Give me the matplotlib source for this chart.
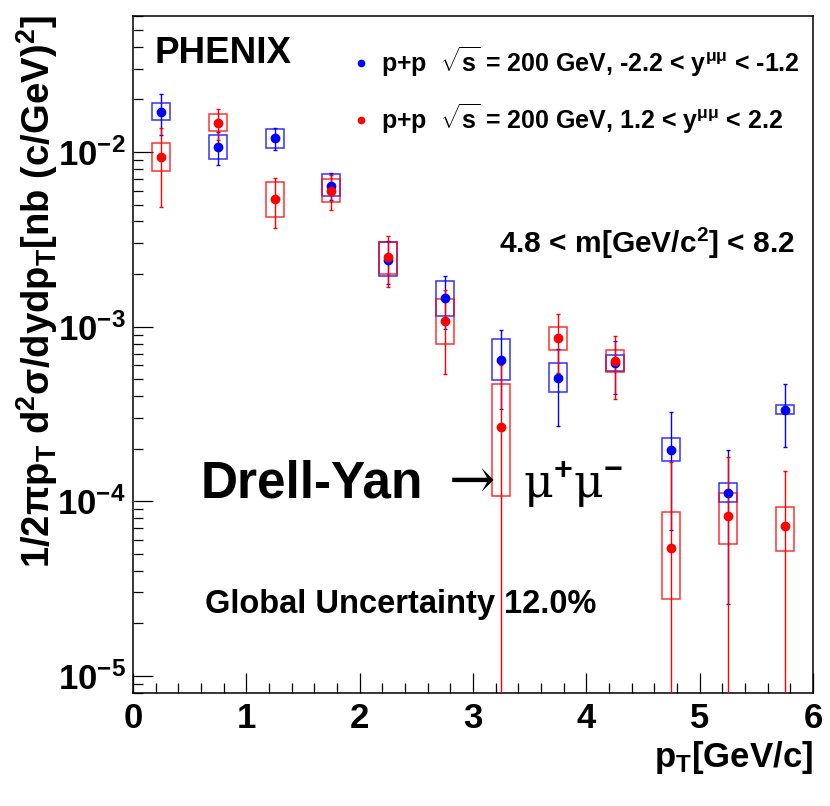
import matplotlib
matplotlib.use("Agg")
import matplotlib.pyplot as plt
import numpy as np

plt.rcParams["font.family"] = ["Liberation Sans", "DejaVu Sans"]
plt.rcParams["font.weight"] = "bold"
plt.rcParams["axes.labelweight"] = "bold"
plt.rcParams["mathtext.fontset"] = "custom"
plt.rcParams["mathtext.rm"] = "Liberation Sans:bold"
plt.rcParams["mathtext.it"] = "Liberation Sans:bold"
plt.rcParams["mathtext.bf"] = "Liberation Sans:bold"
plt.rcParams["mathtext.default"] = "rm"

# pT bin centres [GeV/c]
pt = np.array([0.25, 0.75, 1.25, 1.75, 2.25, 2.75, 3.25, 3.75, 4.25, 4.75, 5.25, 5.75])

# -2.2 < y < -1.2 (blue)
south_val = np.array([0.0170, 0.01074, 0.01198, 0.00642, 0.00242, 0.00145,
                      0.000646, 0.000507, 0.000615, 0.000196, 0.000111, 0.000334])
south_stat_hi = np.array([0.0215, 0.0130, 0.01367, 0.00755, 0.00310, 0.00194,
                          0.000955, 0.000743, 0.000822, 0.000323, 0.000196, 0.000467])
south_stat_lo = np.array([0.0125, 0.00847, 0.01022, 0.00534, 0.00176, 0.000964,
                          0.000337, 0.000271, 0.000409, 6.87e-5, 2.58e-5, 0.000203])
south_sys_hi = np.array([0.0190, 0.01258, 0.01349, 0.00748, 0.00307, 0.00183,
                         0.000845, 0.000616, 0.000687, 0.000229, 0.000127, 0.000354])
south_sys_lo = np.array([0.0152, 0.00917, 0.01059, 0.00563, 0.00196, 0.00115,
                         0.000492, 0.000421, 0.000556, 0.000169, 9.87e-5, 0.000315])

# 1.2 < y < 2.2 (red); stat_lo = 0 where the bar reaches zero
north_val = np.array([0.00933, 0.01472, 0.00536, 0.00601, 0.00249, 0.00107,
                      0.000266, 0.000855, 0.000635, 5.36e-5, 8.24e-5, 7.2e-5])
north_stat_hi = np.array([0.0138, 0.01762, 0.00707, 0.00736, 0.0033, 0.00162,
                          0.0006, 0.001175, 0.000879, 0.000168, 0.000178, 0.000149])
north_stat_lo = np.array([0.00483, 0.01166, 0.00365, 0.00467, 0.00168, 0.000533,
                          0.0, 0.000545, 0.000386, 0.0, 0.0, 0.0])
north_sys_hi = np.array([0.01125, 0.01644, 0.00673, 0.00701, 0.00304, 0.00143,
                         0.000471, 0.000998, 0.000731, 8.65e-5, 0.000111, 9.27e-5])
north_sys_lo = np.array([0.00783, 0.01313, 0.00427, 0.0052, 0.00201, 0.00079,
                         0.000107, 0.000734, 0.000547, 2.76e-5, 5.68e-5, 5.15e-5])

south_label = r"p+p  $\sqrt{s}$ = 200 GeV, -2.2 < y$^{\mu\mu}$ < -1.2"
north_label = r"p+p  $\sqrt{s}$ = 200 GeV, 1.2 < y$^{\mu\mu}$ < 2.2"

fig = plt.figure(figsize=(8.3, 8.06), dpi=100)
ax = fig.add_axes([0.1602, 0.1406, 0.8193, 0.84])
ax.set_yscale("log")

handles = []
for val, shi, slo, yhi, ylo, col in [
        (south_val, south_stat_hi, south_stat_lo, south_sys_hi, south_sys_lo, "#0000ff"),
        (north_val, north_stat_hi, north_stat_lo, north_sys_hi, north_sys_lo, "#ff0000")]:
    ax.bar(pt, yhi - ylo, width=0.16, bottom=ylo, fill=False,
           edgecolor=col, linewidth=1.1, alpha=0.8, zorder=2)
    eb = ax.errorbar(pt, val, yerr=[val - slo, shi - val], fmt="o", color=col,
                     markersize=6, elinewidth=1.0, capsize=1.6, capthick=1.0, zorder=3)
    handles.append(eb[0])

ax.set_xlim(0, 6)
ax.set_ylim(8.0e-6, 0.0604)

ax.xaxis.set_major_locator(matplotlib.ticker.MultipleLocator(1))
ax.xaxis.set_minor_locator(matplotlib.ticker.MultipleLocator(0.2))
ax.tick_params(which="both", direction="in", top=False, right=False,
               labelsize=25, width=0.9)
ax.tick_params(which="major", length=14.5, pad=7)
ax.tick_params(which="minor", length=7.5)
ax.tick_params(axis="y", pad=5)
for s in ax.spines.values():
    s.set_linewidth(1.1)

ax.set_xlabel(r"p$_{T}$[GeV/c]", fontsize=25, loc="right")
ax.xaxis.set_label_coords(1.0, -0.068)
ax.set_ylabel(r"1/2$\pi$p$_{T}$ d$^{2}\sigma$/dydp$_{T}$[nb (c/GeV)$^{2}$]",
              fontsize=27.5, loc="top")
ax.yaxis.set_label_coords(-0.108, 1.0)

ax.text(0.032, 0.930, "PHENIX", transform=ax.transAxes, fontsize=26.5,
        va="baseline")
ax.text(0.538, 0.650, r"4.8 < m[GeV/c$^{2}$] < 8.2", transform=ax.transAxes,
        fontsize=21.5, va="baseline")
ax.text(0.099, 0.2876, "Drell-Yan", transform=ax.transAxes, fontsize=37,
        va="baseline")
ax.text(0.465, 0.2876, "\u2192", transform=ax.transAxes, fontsize=40,
        va="baseline", family=["DejaVu Serif"], fontweight="normal")
ax.text(0.5735, 0.2876, "\u03bc$^{+}$\u03bc$^{-}$",
        transform=ax.transAxes, fontsize=33, va="baseline",
        family=["DejaVu Serif"], fontweight="normal")
ax.text(0.106, 0.1177, "Global Uncertainty 12.0%", transform=ax.transAxes,
        fontsize=23.5, va="baseline")

ax.legend(handles, [south_label, north_label], loc="upper left",
          bbox_to_anchor=(0.3246, 0.958), frameon=False, fontsize=18,
          handlelength=0.6, handletextpad=0.5, labelspacing=0.9,
          borderpad=0, borderaxespad=0, markerscale=0.75)

fig.savefig("out.png", dpi=100)
